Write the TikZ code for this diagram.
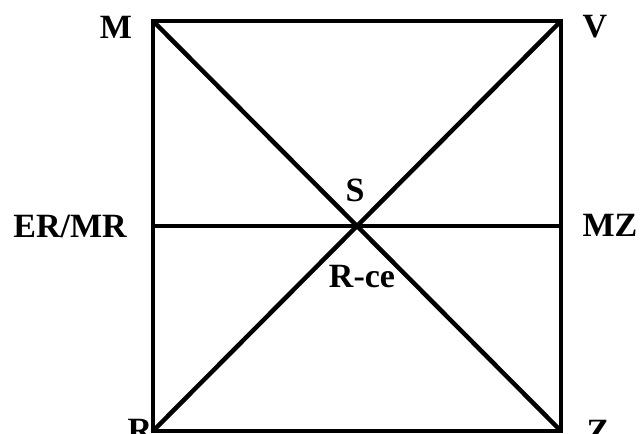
\documentclass[tikz,border=0pt]{standalone}
\usepackage{fontspec}
\setmainfont{Liberation Serif}
\usepackage{tikz}
\usetikzlibrary{positioning, calc}

\begin{document}
\begin{tikzpicture}[
    x=1pt, y=-1pt,
    every node/.style={font=\fontsize{34}{36}\selectfont\bfseries, inner sep=0pt},
    edge/.style={line width=4.5pt, black, line cap=rect},
    cross/.style={line width=4.5pt, black}
]
\useasboundingbox (0,0) rectangle (641,434);
% corners of the square
\coordinate (tl) at (153,21);
\coordinate (tr) at (561,21);
\coordinate (bl) at (153,431);
\coordinate (br) at (561,431);
\coordinate (ml) at (153,226);
\coordinate (mr) at (561,226);
\coordinate (mid) at ($(ml)!0.5!(mr)$);

\draw[edge] (tl) -- (tr) -- (br) -- (bl) -- cycle;
\draw[cross] (tl) -- (br);
\draw[cross] (bl) -- (tr);
\draw[cross] (ml) -- (mr);

% labels
\node (m) at (116,27) {M};
\node (v) at (595,27) {V};
\node (ermr) at (70,226) {ER/MR};
\node (mz) at (610,225) {MZ};
\node (r) at (140,430) {R};
\node (z) at (598,431) {Z};
\node (s) at (355,190) {S};
\node (rce) at (362,277) {R-ce};
\end{tikzpicture}
\end{document}
